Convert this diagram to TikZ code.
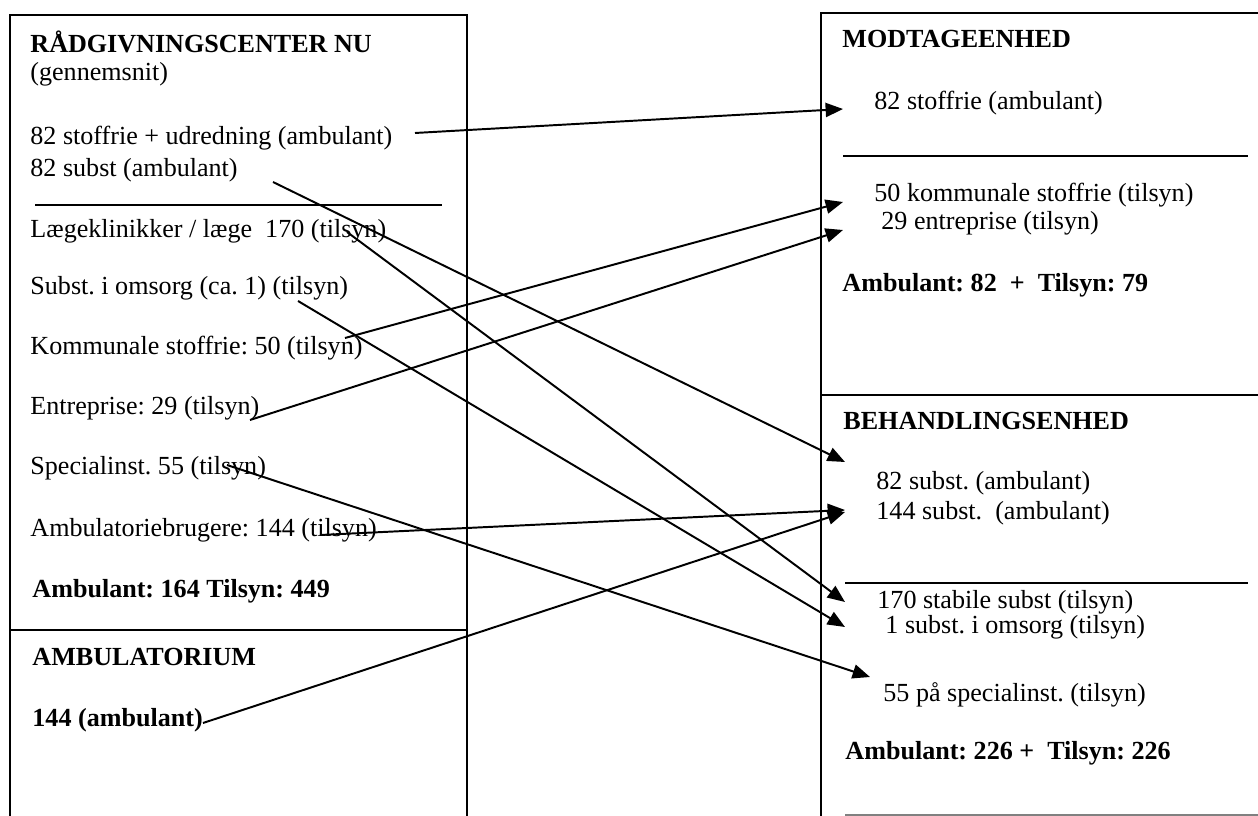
\documentclass[tikz,border=0pt]{standalone}
\usepackage{fontspec}
\setmainfont{Liberation Serif}
\usetikzlibrary{arrows.meta}
\frenchspacing

\begin{document}
\begin{tikzpicture}[
        x=0.46pt, y=-0.46pt,
        txt/.style={anchor=base west, inner sep=0pt, font=\fontsize{12}{14}\selectfont},
        head/.style={txt, font=\fontsize{12}{14}\selectfont\bfseries},
        frame/.style={line width=0.7pt, black},
        flow/.style={-{Triangle[length=8pt,width=6.5pt]}, line width=0.9pt}
    ]
        \useasboundingbox (0,0) rectangle (1258,816);
        \clip (0,0) rectangle (1258,816);

        % frames
        \draw[frame] (10,820) -- (10,15) -- (467,15) -- (467,820);
        \draw[frame] (10,630) -- (467,630);
        \draw[frame] (35,205) -- (442,205);
        \draw[frame] (821,820) -- (821,13) -- (1262,13);
        \draw[frame] (821,395) -- (1262,395);
        \draw[frame] (843,156) -- (1248,156);
        \draw[frame] (845,583) -- (1248,583);
        \draw[frame, gray] (845,815) -- (1262,815);

        % left side
        \node[head] (rc) at (30,53) {RÅDGIVNINGSCENTER NU};
        \node[txt] (gs) at (30,81) {(gennemsnit)};
        \node[txt] (a1) at (30,145) {82 stoffrie + udredning (ambulant)};
        \node[txt] (a2) at (30,177) {82 subst (ambulant)};
        \node[txt] (lk) at (30,238) {Lægeklinikker / læge\ \ 170 (tilsyn)};
        \node[txt] (so) at (30,295) {Subst. i omsorg (ca. 1) (tilsyn)};
        \node[txt] (ks) at (30,355) {Kommunale stoffrie: 50 (tilsyn)};
        \node[txt] (en) at (30,415) {Entreprise: 29 (tilsyn)};
        \node[txt] (sp) at (30,475) {Specialinst. 55 (tilsyn)};
        \node[txt] (ab) at (30,537) {Ambulatoriebrugere: 144 (tilsyn)};
        \node[head] (rcsum) at (32,598) {Ambulant: 164 Tilsyn: 449};
        \node[head] (amb) at (32,666) {AMBULATORIUM};
        \node[head] (am) at (32,727) {144 (ambulant)};

        % right side
        \node[head] (mod) at (842,48) {MODTAGEENHED};
        \node[txt] (m1) at (874,110) {82 stoffrie (ambulant)};
        \node[txt] (m2) at (874,202) {50 kommunale stoffrie (tilsyn)};
        \node[txt] (m3) at (881,230) {29 entreprise (tilsyn)};
        \node[head] (msum) at (842,292) {Ambulant: 82\ \ +\ \ Tilsyn: 79};
        \node[head] (beh) at (843,430) {BEHANDLINGSENHED};
        \node[txt] (b1) at (876,490) {82 subst. (ambulant)};
        \node[txt] (b2) at (876,520) {144 subst.\ \ (ambulant)};
        \node[txt] (b3) at (877,609) {170 stabile subst (tilsyn)};
        \node[txt] (b4) at (885,634) {1 subst. i omsorg (tilsyn)};
        \node[txt] (b5) at (883,702) {55 på specialinst. (tilsyn)};
        \node[head] (bsum) at (845,760) {Ambulant: 226 +\ \ Tilsyn: 226};

        % flows
        \draw[flow] ([shift={(385,-12)}]a1.base west) -- ([shift={(-31,-1)}]m1.base west);
        \draw[flow] ([shift={(243,5)}]a2.base west) -- ([shift={(-31,-28)}]b1.base west);
        \draw[flow] ([shift={(317,-6)}]lk.base west) -- ([shift={(-32,-7)}]b3.base west);
        \draw[flow] ([shift={(268,6)}]so.base west) -- ([shift={(-40,-7)}]b4.base west);
        \draw[flow] ([shift={(315,-17)}]ks.base west) -- ([shift={(-31,0)}]m2.base west);
        \draw[flow] ([shift={(220,5)}]en.base west) -- ([shift={(-38,0)}]m3.base west);
        \draw[flow] ([shift={(197,-10)}]sp.base west) -- ([shift={(-13,-25)}]b5.base west);
        \draw[flow] ([shift={(290,-2)}]ab.base west) -- ([shift={(-31,-10)}]b2.base west);
        \draw[flow] ([shift={(171,-4)}]am.base west) -- ([shift={(-31,-8)}]b2.base west);
    \end{tikzpicture}
\end{document}
